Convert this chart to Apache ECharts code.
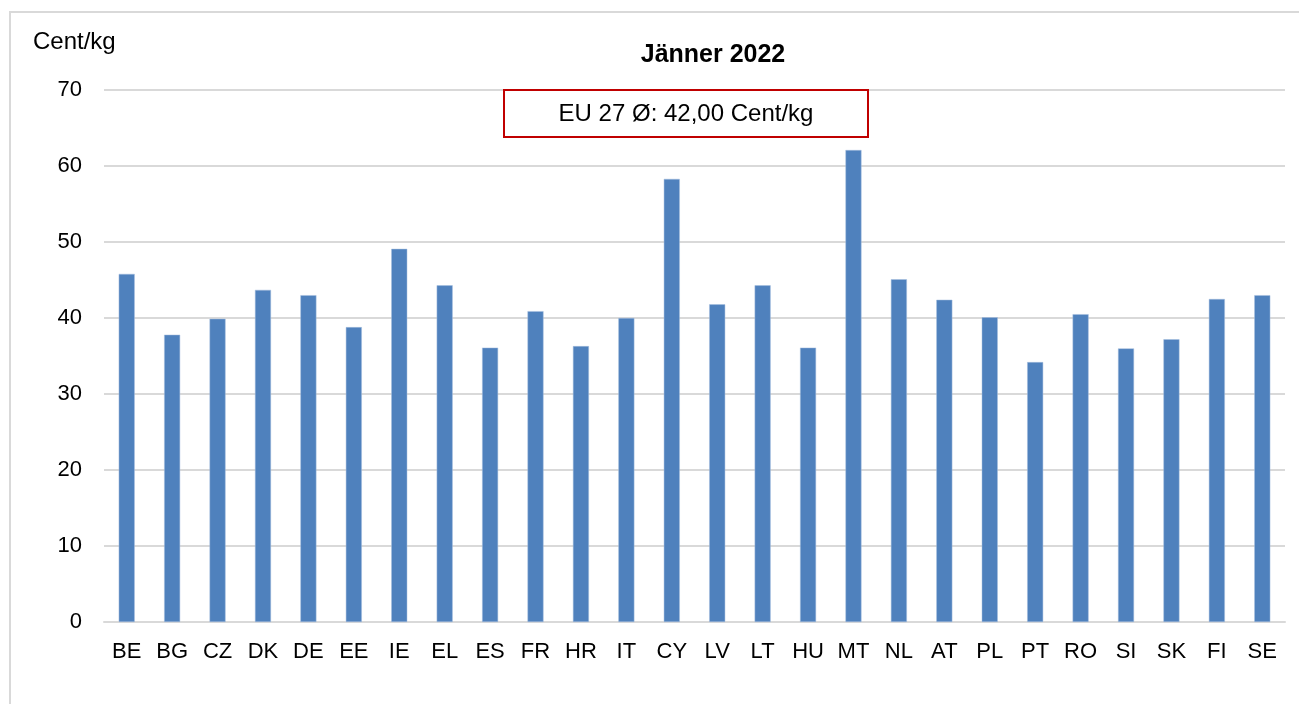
<!DOCTYPE html>
<html>
<head>
<meta charset="utf-8">
<script src="https://cdn.jsdelivr.net/npm/echarts@6/dist/echarts.min.js"></script>
<style>
    html, body { margin: 0; padding: 0; background: #fff; }
    #container { width: 1299px; height: 704px; }
</style>
</head>
<body>
<div id="container"></div>
<script>
// Länder (EU 27)
var countries = ['BE','BG','CZ','DK','DE','EE','IE','EL','ES','FR','HR','IT','CY','LV','LT','HU','MT','NL','AT','PL','PT','RO','SI','SK','FI','SE'];
// Preis in Cent/kg
var prices = [45.8,37.8,39.9,43.7,43.0,38.8,49.1,44.3,36.1,40.9,36.3,40.0,58.3,41.8,44.3,36.1,62.1,45.1,42.4,40.1,34.2,40.5,36.0,37.2,42.5,43.0];
var yTicks = [0,10,20,30,40,50,60,70];
var euAvg = '42,00';
var monthTitle = 'Jänner 2022';
var unit = 'Cent/kg';

window.onload = function () {
    initChart();
};

function initChart(){
    var dom = document.getElementById("container");
    var myChart = echarts.init(dom);
    var font = 'Liberation Sans, Arial, sans-serif';
    var option = {
        backgroundColor: '#fff',
        animation: false,
        textStyle: { fontFamily: font },
        title: [{
            text: monthTitle,
            left: 708,
            top: 38,
            textAlign: 'center',
            textStyle: { fontSize: 25, fontWeight: 'bold', color: '#000', fontFamily: font }
        }, {
            text: unit,
            left: 28,
            top: 25,
            textStyle: { fontSize: 24, fontWeight: 'normal', color: '#000', fontFamily: font }
        }],
        graphic: [{
            // äußerer Rahmen
            type: 'rect',
            shape: { x: 10, y: 12, width: 1300, height: 720 },
            style: { fill: 'none', stroke: '#d9d9d9', lineWidth: 2 },
            silent: true
        }, {
            // EU Durchschnitt
            type: 'rect',
            shape: { x: 504, y: 90, width: 364, height: 47 },
            style: { fill: '#fff', stroke: '#c00000', lineWidth: 2 },
            z: 100
        }, {
            type: 'text',
            x: 686,
            y: 114,
            style: {
                text: 'EU 27 Ø: ' + euAvg + ' ' + unit,
                fill: '#000',
                font: '24px ' + font,
                align: 'center',
                verticalAlign: 'middle'
            },
            z: 101
        }],
        grid: {
            left: 104,
            right: 14,
            top: 90,
            bottom: 82,
            containLabel: false
        },
        xAxis: {
            type: 'category',
            data: countries,
            axisLine: { lineStyle: { color: '#d9d9d9', width: 2 } },
            axisTick: { show: false },
            axisLabel: { color: '#000', fontSize: 22, margin: 19, interval: 0, fontFamily: font }
        },
        yAxis: {
            type: 'value',
            min: 0,
            max: yTicks[yTicks.length - 1],
            interval: 10,
            axisLine: { show: false },
            axisTick: { show: false },
            axisLabel: { color: '#000', fontSize: 22, margin: 22, fontFamily: font },
            splitLine: { lineStyle: { color: '#d9d9d9', width: 2 } }
        },
        series: [{
            name: unit,
            type: 'bar',
            data: prices,
            barWidth: 16,
            itemStyle: { color: '#4f81bd', borderColor: '#a7bfdf', borderWidth: 0.5 }
        }]
    };
    myChart.setOption(option, true);
}
</script>
</body>
</html>
